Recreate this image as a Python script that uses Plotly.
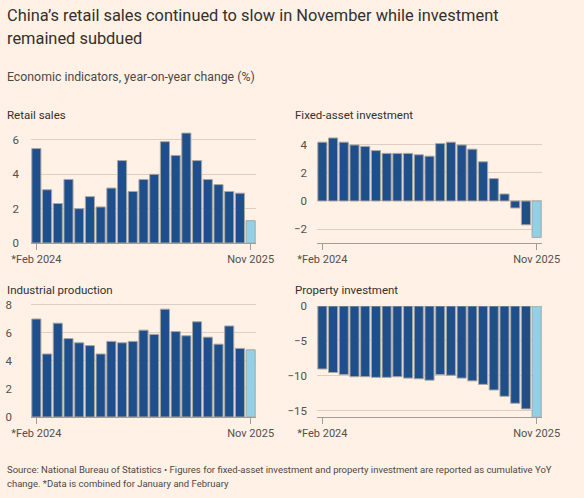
import plotly.graph_objects as go

W, H = 584, 498

months = ["Feb 2024", "Mar 2024", "Apr 2024", "May 2024", "Jun 2024", "Jul 2024",
          "Aug 2024", "Sep 2024", "Oct 2024", "Nov 2024", "Dec 2024", "Feb 2025",
          "Mar 2025", "Apr 2025", "May 2025", "Jun 2025", "Jul 2025", "Aug 2025",
          "Sep 2025", "Oct 2025", "Nov 2025"]
tick_text = ["*Feb 2024", "Nov 2025"]

retail_sales = [5.5, 3.1, 2.3, 3.7, 2.0, 2.7, 2.1, 3.2, 4.8, 3.0, 3.7,
                4.0, 5.9, 5.1, 6.4, 4.8, 3.7, 3.4, 3.0, 2.9, 1.3]
fixed_asset = [4.2, 4.5, 4.2, 4.0, 3.9, 3.6, 3.4, 3.4, 3.4, 3.3, 3.2,
               4.1, 4.2, 4.0, 3.7, 2.8, 1.6, 0.5, -0.5, -1.7, -2.6]
industrial = [7.0, 4.5, 6.7, 5.6, 5.3, 5.1, 4.5, 5.4, 5.3, 5.4, 6.2,
              5.9, 7.7, 6.1, 5.8, 6.8, 5.7, 5.2, 6.5, 4.9, 4.8]
property_inv = [-9.0, -9.5, -9.8, -10.1, -10.1, -10.2, -10.2, -10.1, -10.3, -10.4, -10.6,
                -9.8, -9.9, -10.3, -10.7, -11.2, -12.0, -12.9, -13.9, -14.7, -15.9]

DARK = "#1f4f8b"
LIGHT = "#92d0e8"
OUTLINE = "#a9a6a3"
GRID = "#dccfc4"
AXIS = "#a39d98"
TXT = "#33302e"
TICK = "#55504c"
BG = "#fff1e5"
FONT = "Roboto"


def px_x(p):
    return p / W


def px_y(p):
    return 1 - p / H


colors = [DARK] * (len(months) - 1) + [LIGHT]

# panel: name, data, x pixels, y pixels, y range, y ticks, label standoff
panels = [
    ("Retail sales", retail_sales, (31, 256), (130, 243), [0, 6.58], [0, 2, 4, 6], 11),
    ("Fixed-asset investment", fixed_asset, (317, 542), (130, 243), [-3, 5.07], [-2, 0, 2, 4], 9),
    ("Industrial production", industrial, (31, 256), (303, 417), [0, 8.14], [0, 2, 4, 6, 8], 18),
    ("Property investment", property_inv, (317, 542), (306, 417), [-15.86, 0], [-15, -10, -5, 0], 9),
]

fig = go.Figure()
layout = {}
for i, (name, vals, xp, yp, yr, yt, stand) in enumerate(panels):
    n = "" if i == 0 else str(i + 1)
    fig.add_trace(go.Bar(
        x=months, y=vals, xaxis="x" + n, yaxis="y" + n,
        marker=dict(color=colors, line=dict(color=OUTLINE, width=1)),
        showlegend=False, hoverinfo="x+y",
    ))
    layout["xaxis" + n] = dict(
        domain=[px_x(xp[0]), px_x(xp[1])], anchor="y" + n, automargin=False,
        type="category", categoryorder="array", categoryarray=months,
        range=[-0.5, len(months) - 0.5],
        tickvals=[months[0], months[-1]], ticktext=tick_text,
        ticks="outside", ticklen=6, tickcolor=AXIS, tickwidth=1,
        showline=True, linecolor=AXIS, linewidth=1, showgrid=False,
        tickfont=dict(family=FONT, size=11, color=TICK), fixedrange=True,
    )
    layout["yaxis" + n] = dict(
        domain=[px_y(yp[1]), px_y(yp[0])], anchor="x" + n, automargin=False,
        range=yr, tickvals=yt, showgrid=True, gridcolor=GRID, gridwidth=1,
        zeroline=True, zerolinecolor=GRID, zerolinewidth=1,
        ticks="", showline=False, ticklabelstandoff=stand,
        tickfont=dict(family=FONT, size=11.5, color=TICK), fixedrange=True,
    )

annotations = [
    dict(text="China’s retail sales continued to slow in November while investment",
         x=px_x(5), y=px_y(16), font=dict(size=16.4, color=TXT)),
    dict(text="remained subdued", x=px_x(5), y=px_y(39), font=dict(size=16.4, color=TXT)),
    dict(text="Economic indicators, year-on-year change (%)", x=px_x(5), y=px_y(77),
         font=dict(size=12.3, color="#4d4845")),
    dict(text="Retail sales", x=px_x(5), y=px_y(115), font=dict(size=11.5, color=TXT)),
    dict(text="Fixed-asset investment", x=px_x(293), y=px_y(115), font=dict(size=11.5, color=TXT)),
    dict(text="Industrial production", x=px_x(5), y=px_y(290), font=dict(size=11.5, color=TXT)),
    dict(text="Property investment", x=px_x(293), y=px_y(290), font=dict(size=11.5, color=TXT)),
    dict(text="Source: National Bureau of Statistics • Figures for fixed-asset investment and property investment are reported as cumulative YoY",
         x=px_x(5), y=px_y(469), font=dict(size=9.5, color="#4d4845")),
    dict(text="change. *Data is combined for January and February",
         x=px_x(5), y=px_y(483), font=dict(size=9.5, color="#4d4845")),
]
for a in annotations:
    a.update(xref="paper", yref="paper", xanchor="left", yanchor="middle",
             showarrow=False)
    a["font"]["family"] = FONT

fig.update_layout(
    width=W, height=H, margin=dict(l=0, r=0, t=0, b=0),
    paper_bgcolor=BG, plot_bgcolor=BG,
    bargap=0.15, font=dict(family=FONT, color=TXT),
    annotations=annotations, **layout,
)

# page body has a default margin; drop it so the figure sits at the corner
fig.write_html("out.html", config={"displayModeBar": False}, post_script=(
    "document.body.style.margin='0';"
    "document.body.style.background='" + BG + "';"
))
